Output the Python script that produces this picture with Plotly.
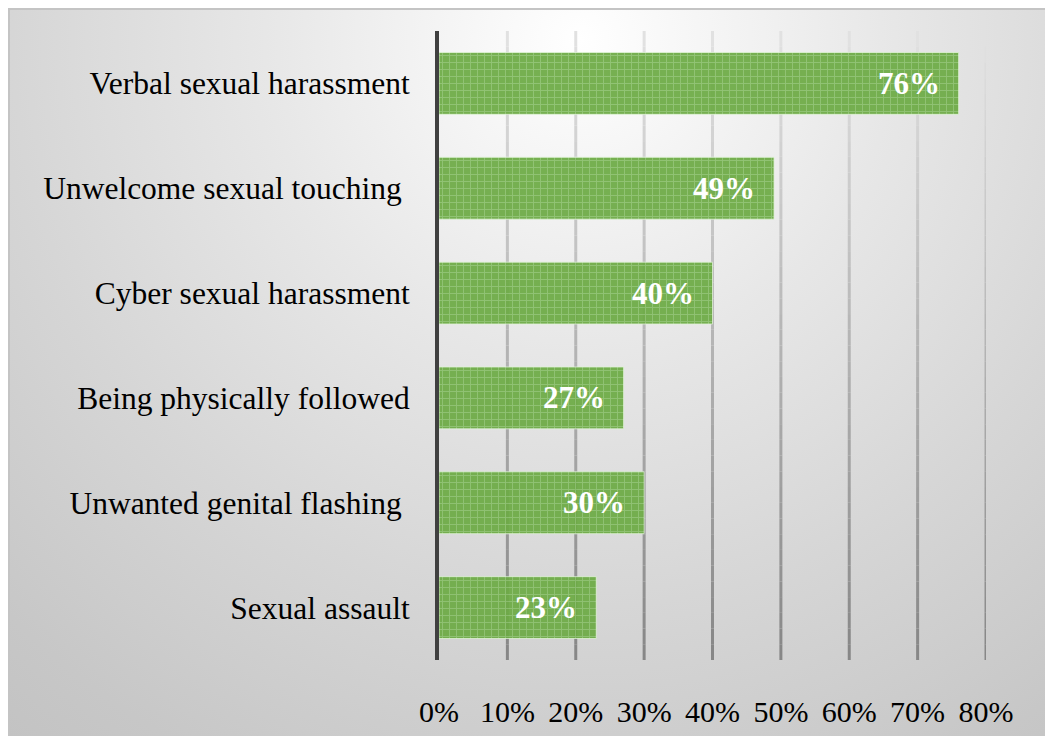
import base64
import plotly.graph_objects as go

# Share of respondents reporting each form of harassment
categories = [
    "Verbal sexual harassment",
    "Unwelcome sexual touching ",
    "Cyber sexual harassment",
    "Being physically followed",
    "Unwanted genital flashing ",
    "Sexual assault",
]
shares = [0.76, 0.49, 0.40, 0.27, 0.30, 0.23]
x_ticks = [0.0, 0.1, 0.2, 0.3, 0.4, 0.5, 0.6, 0.7, 0.8]

FONT = "Liberation Serif, Times New Roman, serif"
W, H = 1045, 736
M_L, M_R, M_T, M_B = 439, 59, 31, 76
plot_w = W - M_L - M_R
plot_h = H - M_T - M_B

# Radial grey chart-area backdrop as an inline SVG
svg = f"""<svg xmlns='http://www.w3.org/2000/svg' width='{W}' height='{H}' viewBox='0 0 {W} {H}'>
<defs>
<radialGradient id='g' gradientUnits='userSpaceOnUse' cx='580' cy='40' r='900'>
<stop offset='0' stop-color='#ffffff'/>
<stop offset='0.35' stop-color='#e7e7e7'/>
<stop offset='0.63' stop-color='#d6d6d6'/>
<stop offset='0.9' stop-color='#c7c7c7'/>
<stop offset='1' stop-color='#c3c3c3'/>
</radialGradient>
</defs>
<rect x='0' y='0' width='{W}' height='{H}' fill='#ffffff'/>
<rect x='8' y='8' width='{W - 8}' height='{H - 8}' fill='url(#g)'/>
<line x1='8' y1='9' x2='{W}' y2='9' stroke='#c4c4c4' stroke-width='2'/>
<line x1='9' y1='8' x2='9' y2='{H}' stroke='#c4c4c4' stroke-width='2'/>
</svg>"""
bg_uri = "data:image/svg+xml;base64," + base64.b64encode(svg.encode()).decode()

fig = go.Figure()
fig.add_trace(go.Bar(
    x=shares,
    y=categories,
    orientation="h",
    marker=dict(
        color="#6dab45",
        opacity=0.93,
        line=dict(color="rgba(225,245,215,0.8)", width=1),
        pattern=dict(shape="+", fgcolor="#a8d592", size=7, solidity=0.25),
    ),
    hoverinfo="skip",
))

# Value labels at the inner end of each bar
for cat, val in zip(categories, shares):
    fig.add_annotation(
        x=val, y=cat, text=f"{val * 100:.0f}%", showarrow=False,
        xanchor="right", xshift=-17, yshift=0,
        font=dict(family=FONT, size=31, color="white", weight="bold"),
    )

# Vertical gridlines fading from light at the top to darker at the bottom
n_seg = 40
top_c, bot_c = 226, 134
shapes = []
for tv in x_ticks[1:]:
    for i in range(n_seg):
        f = (i + 0.5) / n_seg
        c = int(round(bot_c + (top_c - bot_c) * f))
        shapes.append(dict(
            type="line", xref="x", yref="paper",
            x0=tv, x1=tv, y0=i / n_seg, y1=(i + 1) / n_seg,
            line=dict(color=f"rgb({c},{c},{c})", width=3),
            layer="below",
        ))

fig.update_layout(
    width=W, height=H,
    margin=dict(l=M_L, r=M_R, t=M_T, b=M_B, pad=0),
    paper_bgcolor="white",
    plot_bgcolor="rgba(0,0,0,0)",
    showlegend=False,
    bargap=0.41,
    font=dict(family=FONT, size=30, color="black"),
    shapes=shapes,
    images=[dict(
        source=bg_uri, xref="paper", yref="paper",
        x=-M_L / plot_w, y=(plot_h + M_T) / plot_h,
        sizex=W / plot_w, sizey=H / plot_h,
        sizing="stretch", xanchor="left", yanchor="top", layer="below",
    )],
    xaxis=dict(
        range=[0, 0.8], tickvals=x_ticks, tickformat=".0%",
        showgrid=False, zeroline=False, showline=False, ticks="",
        ticklabelstandoff=31, automargin=False,
        tickfont=dict(family=FONT, size=30, color="black"),
    ),
    yaxis=dict(
        categoryorder="array", categoryarray=categories, autorange="reversed",
        showgrid=False, zeroline=False, showline=True,
        linecolor="#404040", linewidth=4, ticks="",
        ticklabelstandoff=19, automargin=False,
        tickfont=dict(family=FONT, size=31.5, color="black"),
    ),
)

fig.write_html("out.html")
